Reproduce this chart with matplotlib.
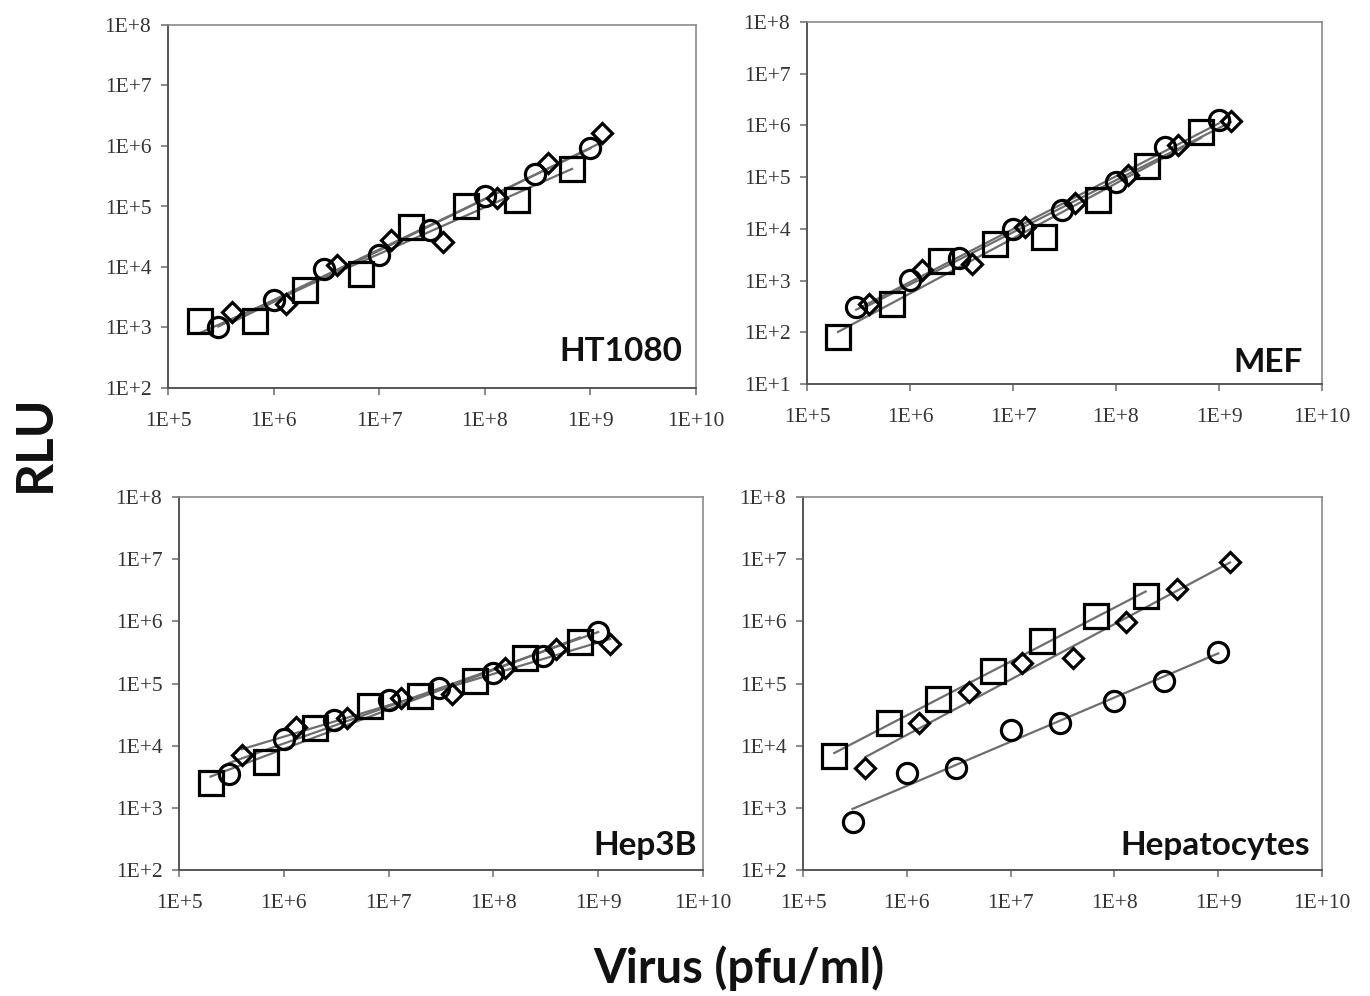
import numpy as np
import matplotlib
matplotlib.use("Agg")
import matplotlib.pyplot as plt
from matplotlib.ticker import FixedLocator, FixedFormatter

# Virus dilutions (pfu/ml), one set per marker type
x_square = [2e5, 6.7e5, 2e6, 6.7e6, 2e7, 6.7e7, 2e8, 6.7e8]
x_circle = [3e5, 1e6, 3e6, 1e7, 3e7, 1e8, 3e8, 1e9]
x_diamond = [4e5, 1.3e6, 4e6, 1.3e7, 4e7, 1.3e8, 4e8, 1.3e9]

# RLU readings
ht1080_square = [1.3e3, 1.3e3, 4.1e3, 7.8e3, 4.6e4, 1.0e5, 1.3e5, 4.1e5]
ht1080_circle = [1.0e3, 2.9e3, 9.3e3, 1.55e4, 4.1e4, 1.5e5, 3.4e5, 9.3e5]
ht1080_diamond = [1.8e3, 2.4e3, 1.07e4, 2.8e4, 2.6e4, 1.4e5, 5.2e5, 1.65e6]

mef_square = [81, 355, 2.4e3, 5.2e3, 7.1e3, 3.6e4, 1.65e5, 7.6e5]
mef_circle = [310, 1.02e3, 2.7e3, 1.0e4, 2.3e4, 8.1e4, 3.9e5, 1.3e6]
mef_diamond = [355, 1.6e3, 2.1e3, 1.1e4, 3.1e4, 1.1e5, 4.2e5, 1.2e6]

hep3b_square = [2.5e3, 5.5e3, 1.9e4, 4.3e4, 6.3e4, 1.1e5, 2.6e5, 4.7e5]
hep3b_circle = [3.5e3, 1.3e4, 2.6e4, 5.5e4, 8.5e4, 1.5e5, 2.8e5, 6.8e5]
hep3b_diamond = [7.1e3, 2.0e4, 2.8e4, 5.9e4, 6.7e4, 1.8e5, 3.6e5, 4.3e5]

hepato_square = [6.8e3, 2.3e4, 5.6e4, 1.6e5, 4.9e5, 1.2e6, 2.6e6]
hepato_circle = [600, 3.6e3, 4.4e3, 1.8e4, 2.3e4, 5.3e4, 1.1e5, 3.2e5]
hepato_diamond = [4.4e3, 2.3e4, 7.2e4, 2.1e5, 2.6e5, 9.6e5, 3.3e6, 9.1e6]

panel_names = ["HT1080", "MEF", "Hep3B", "Hepatocytes"]
panel_ymin = [2, 1, 2, 2]
x_decades = [5, 6, 7, 8, 9, 10]

panels = [
    (ht1080_square, ht1080_circle, ht1080_diamond),
    (mef_square, mef_circle, mef_diamond),
    (hep3b_square, hep3b_circle, hep3b_diamond),
    (hepato_square, hepato_circle, hepato_diamond),
]

# axes boxes in pixels: left, right, top, bottom
W, H = 1370, 996
boxes = [(168, 696, 25, 388), (807, 1322, 22, 384),
         (179, 703, 497, 870), (803, 1322, 497, 870)]
label_pos = [(0.975, 0.074), (0.963, 0.033), (0.989, 0.040), (0.977, 0.040)]

fig = plt.figure(figsize=(W / 100, H / 100), dpi=100)
fig.patch.set_facecolor("white")

tick_font = dict(family="Liberation Serif", size=15.5, color="#333333")
line_color = "#6e6e6e"
axis_color = "#777777"


def trend(ax, xs, ys):
    # straight power-law fit drawn over the data range
    lx, ly = np.log10(xs), np.log10(ys)
    k, b = np.polyfit(lx, ly, 1)
    xx = np.array([lx[0], lx[-1]])
    ax.plot(10 ** xx, 10 ** (k * xx + b), color=line_color, lw=1.6, zorder=2)


for i, (sq, ci, di) in enumerate(panels):
    l, r, t, b = boxes[i]
    ax = fig.add_axes([l / W, 1 - b / H, (r - l) / W, (b - t) / H])
    ax.set_xscale("log")
    ax.set_yscale("log")

    xs_sq = x_square[:len(sq)]
    trend(ax, xs_sq, sq)
    trend(ax, x_circle, ci)
    trend(ax, x_diamond, di)

    mk = dict(mfc="none", mec="black", mew=2.3, ls="none", zorder=3)
    ax.plot(xs_sq, sq, marker="s", ms=17, **mk)
    ax.plot(x_circle, ci, marker="o", ms=14.5, **mk)
    ax.plot(x_diamond, di, marker="D", ms=10.5, **mk)

    ymin = panel_ymin[i]
    ax.set_xlim(1e5, 1e10)
    ax.set_ylim(10 ** ymin, 1e8)

    ax.xaxis.set_major_locator(FixedLocator([10.0 ** d for d in x_decades]))
    ax.xaxis.set_major_formatter(FixedFormatter([f"1E+{d}" for d in x_decades]))
    y_decades = list(range(ymin, 9))
    ax.yaxis.set_major_locator(FixedLocator([10.0 ** d for d in y_decades]))
    ax.yaxis.set_major_formatter(FixedFormatter([f"1E+{d}" for d in y_decades]))
    ax.minorticks_off()

    ax.tick_params(axis="both", direction="out", length=5, width=1.2,
                   color=axis_color)
    ax.tick_params(axis="x", pad=12)
    ax.tick_params(axis="y", pad=7)
    for lab in ax.get_xticklabels() + ax.get_yticklabels():
        lab.set_fontfamily(tick_font["family"])
        lab.set_fontsize(tick_font["size"])
        lab.set_color(tick_font["color"])

    for side in ["top", "right"]:
        ax.spines[side].set_color("#8a8a8a")
        ax.spines[side].set_linewidth(1.2)
    for side in ["left", "bottom"]:
        ax.spines[side].set_color("#555555")
        ax.spines[side].set_linewidth(1.4)

    lx, ly = label_pos[i]
    ax.text(lx, ly, panel_names[i], transform=ax.transAxes, ha="right",
            va="baseline", fontsize=24, fontweight="bold", family="Lato",
            color="#111111")

fig.text(35 / W, 1 - 443 / H, "RLU", rotation=90, ha="center", va="center",
         fontsize=37, fontweight="bold", family="Lato", color="#111111")
fig.text(739 / W, 1 - 968 / H, "Virus (pfu/ml)", ha="center", va="center",
         fontsize=34, fontweight="bold", family="Lato", color="#111111")

fig.savefig("out.png", dpi=100, facecolor="white")
